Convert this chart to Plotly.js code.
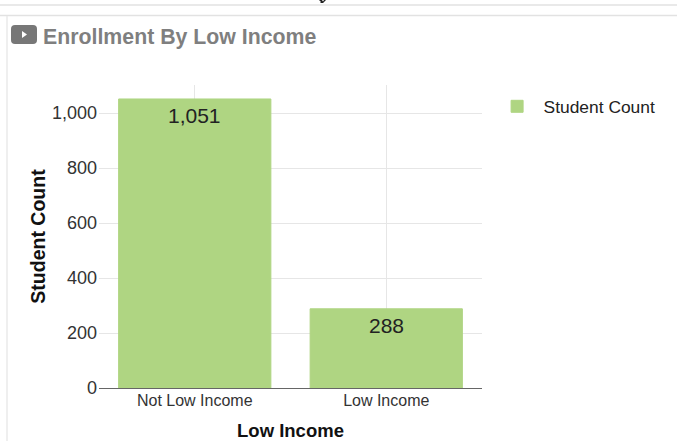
<!DOCTYPE html>
<html>
<head>
<meta charset="utf-8">
<script src="https://cdn.plot.ly/plotly-3.0.1.min.js"></script>
<style>html,body{margin:0;padding:0;background:#fff;overflow:hidden}</style>
</head>
<body>
<div id="chart" style="width:677px;height:441px"></div>
<script>
var categories = ["Not Low Income", "Low Income"];
var studentCount = [1051, 288];
var valueLabels = ["1,051", "288"];
var seriesName = "Student Count";
var chartTitle = "Enrollment By Low Income";
var xTitle = "Low Income";
var yTitle = "Student Count";
var yTickValues = [0, 200, 400, 600, 800, 1000];
var yTickLabels = ["0", "200", "400", "600", "800", "1,000"];

var fontFam = "Liberation Sans, Arial, sans-serif";
var green = "#afd582";
var L = 99, R = 482, T = 85, B = 388;
var px = function (v) { return (v - L) / (R - L); };
var py = function (v) { return (B - v) / (B - T); };
var chrome = "#e2e2e2";

function pathFrom(points) {
  return points.map(function (p, i) {
    return (p[0] + " " + px(p[1]) + " " + py(p[2]));
  }).join(" ") + " Z";
}

var valueAnnotations = categories.map(function (c, i) {
  return {
    xref: "x", yref: "y", x: c, y: studentCount[i],
    yanchor: "middle", xanchor: "center", yshift: -16.5, showarrow: false,
    text: valueLabels[i],
    font: {family: fontFam, size: 21, color: "#222222"}
  };
});

Plotly.newPlot("chart", [{
  type: "bar",
  x: categories,
  y: studentCount,
  name: seriesName,
  marker: {color: green, line: {color: green, width: 1}},
  hoverinfo: "skip"
}], {
  width: 677,
  height: 441,
  margin: {l: L, r: 677 - R, t: T, b: 441 - B, pad: 0},
  paper_bgcolor: "#ffffff",
  plot_bgcolor: "#ffffff",
  bargap: 0.205,
  font: {family: fontFam, color: "#222222"},
  xaxis: {
    type: "category",
    showgrid: true,
    gridcolor: "#e6e6e6",
    gridwidth: 1,
    ticks: "",
    showline: false,
    zeroline: false,
    ticklabelstandoff: 1,
    tickfont: {family: fontFam, size: 16, color: "#333333"},
    title: {text: xTitle, font: {family: fontFam, size: 18.5, color: "#111111", weight: 700}}
  },
  yaxis: {
    range: [0, 1101.8],
    tickmode: "array",
    tickvals: yTickValues,
    ticktext: yTickLabels,
    showgrid: true,
    gridcolor: "#e6e6e6",
    gridwidth: 1,
    ticks: "",
    zeroline: true,
    zerolinecolor: "#666666",
    zerolinewidth: 1,
    showline: false,
    automargin: true,
    ticklabelstandoff: 1,
    tickfont: {family: fontFam, size: 18, color: "#333333"},
    title: {text: yTitle, font: {family: fontFam, size: 19.5, color: "#111111", weight: 700}, standoff: 1}
  },
  showlegend: true,
  legend: {
    x: px(490.6), xanchor: "left",
    y: py(88.5), yanchor: "top",
    bgcolor: "rgba(0,0,0,0)",
    font: {family: fontFam, size: 17.4, color: "#222222"},
    itemwidth: 43,
    itemclick: false,
    itemdoubleclick: false
  },
  shapes: [
    {type: "line", xref: "paper", yref: "paper", x0: px(0), x1: px(677), y0: py(5), y1: py(5), line: {color: chrome, width: 1.5}},
    {type: "line", xref: "paper", yref: "paper", x0: px(0), x1: px(677), y0: py(15.5), y1: py(15.5), line: {color: chrome, width: 1.5}},
    {type: "line", xref: "paper", yref: "paper", x0: px(7), x1: px(7), y0: py(16), y1: py(441), line: {color: "#eaeaea", width: 1.5}},
    {type: "path", xref: "paper", yref: "paper", fillcolor: "#222222", line: {width: 0},
      path: pathFrom([["M", 319, 0], ["L", 322, 0], ["L", 323, 1.5], ["L", 324, 0], ["L", 326, 0], ["L", 323, 3], ["L", 320, 3], ["L", 321, 2]])},
    {type: "path", xref: "paper", yref: "paper", layer: "above", fillcolor: "#777777", line: {width: 0},
      path: pathFrom([["M", 15, 25], ["L", 33, 25], ["Q", 37, 25], ["", 37, 29], ["L", 37, 40], ["Q", 37, 44], ["", 33, 44],
                      ["L", 15, 44], ["Q", 11, 44], ["", 11, 40], ["L", 11, 29], ["Q", 11, 25], ["", 15, 25]])},
    {type: "path", xref: "paper", yref: "paper", layer: "above", fillcolor: "#ffffff", line: {width: 0},
      path: pathFrom([["M", 22, 31], ["L", 27, 34.5], ["L", 22, 38]])}
  ],
  annotations: valueAnnotations.concat([
    {xref: "paper", yref: "paper", x: px(41), y: py(37), xanchor: "left", yanchor: "middle", showarrow: false,
      text: "<b>" + chartTitle + "</b>", font: {family: fontFam, size: 21.3, color: "#7f7f7f"}}
  ])
}, {staticPlot: true, displayModeBar: false});
</script>
</body>
</html>
